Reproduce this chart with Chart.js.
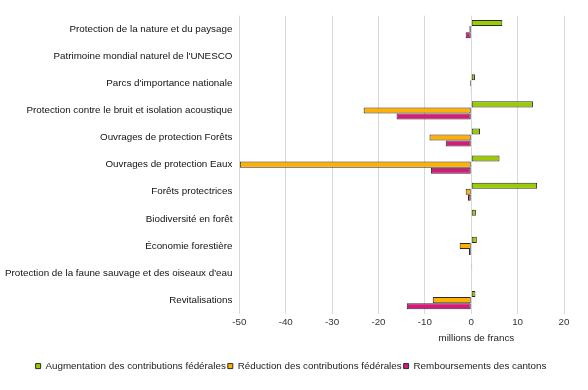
<!DOCTYPE html>
<html>
<head>
<meta charset="utf-8">
<script src="https://cdn.jsdelivr.net/npm/chart.js@4/dist/chart.umd.min.js"></script>
<style>
  html, body { margin: 0; padding: 0; background: #fff; }
  #wrap { width: 588px; height: 390px; }
</style>
</head>
<body>
<div id="wrap"><canvas id="chart"></canvas></div>
<script>
// categories (top to bottom)
const categories = [
  "Protection de la nature et du paysage",
  "Patrimoine mondial naturel de l'UNESCO",
  "Parcs d'importance nationale",
  "Protection contre le bruit et isolation acoustique",
  "Ouvrages de protection Forêts",
  "Ouvrages de protection Eaux",
  "Forêts protectrices",
  "Biodiversité en forêt",
  "Économie forestière",
  "Protection de la faune sauvage et des oiseaux d'eau",
  "Revitalisations"
];

// millions de francs
const augmentation = [6.7, 0, 0.8, 13.3, 1.9, 6.1, 14.2, 1.0, 1.2, 0.2, 0.9];
const reduction    = [-0.4, 0, -0.3, -23.2, -9.0, -49.9, -1.2, 0, -2.5, 0, -8.3];
const remboursements = [-1.2, 0, -0.05, -16.1, -5.5, -8.7, -0.7, 0, -0.5, -0.1, -13.9];

const seriesNames = [
  "Augmentation des contributions fédérales",
  "Réduction des contributions fédérales",
  "Remboursements des cantons"
];
const seriesColors = ['#9acd00', '#ffb000', '#d6197b'];

const xMin = -50, xMax = 20, xStep = 10;

// draws the axis title off-centre, like the original
const axisTitlePlugin = {
  id: 'axisTitle',
  beforeDraw(chart) {
    // centre the legend on the whole canvas, not on the padded area
    if (chart.legend) {
      chart.legend.left = -2;
      chart.legend.right = chart.width - 4;
    }
  },
  afterDraw(chart) {
    const s = chart.scales.x;
    const ctx = chart.ctx;
    ctx.save();
    ctx.font = '9.8px "Liberation Sans", Arial, sans-serif';
    ctx.fillStyle = '#222';
    ctx.textAlign = 'center';
    ctx.textBaseline = 'middle';
    ctx.fillText('millions de francs', s.left + (s.right - s.left) * 0.73, chart.chartArea.bottom + 25);
    ctx.restore();
  }
};

Chart.defaults.font.family = '"Liberation Sans", Arial, sans-serif';
Chart.defaults.font.size = 9.8;
Chart.defaults.color = '#222';

const ctx = document.getElementById('chart').getContext('2d');
new Chart(ctx, {
  type: 'bar',
  data: {
    labels: categories,
    datasets: [augmentation, reduction, remboursements].map((vals, i) => ({
      label: seriesNames[i],
      data: vals,
      backgroundColor: seriesColors[i],
      borderColor: '#2b2b2b',
      borderWidth: 1,
      borderSkipped: false,
      barPercentage: 1,
      categoryPercentage: 0.67
    }))
  },
  options: {
    indexAxis: 'y',
    responsive: true,
    maintainAspectRatio: false,
    animation: false,
    layout: { padding: { top: 15.6, right: 24, left: -2, bottom: 9 } },
    scales: {
      x: {
        min: xMin,
        max: xMax,
        ticks: { stepSize: xStep, color: '#333', padding: 3 },
        grid: { color: '#d9d9d9', drawTicks: false },
        border: { display: false },
        title: { display: true, text: 'millions de francs', color: 'rgba(0,0,0,0)', padding: { top: 4, bottom: 12 } }
      },
      y: {
        ticks: { color: '#111', padding: 7 },
        grid: { display: false, drawTicks: false, tickLength: 0 },
        border: { display: false }
      }
    },
    plugins: {
      legend: {
        position: 'bottom',
        labels: { boxWidth: 5, boxHeight: 5, padding: 2, color: '#222' }
      },
      tooltip: { enabled: false }
    }
  },
  plugins: [axisTitlePlugin]
});
</script>
</body>
</html>
